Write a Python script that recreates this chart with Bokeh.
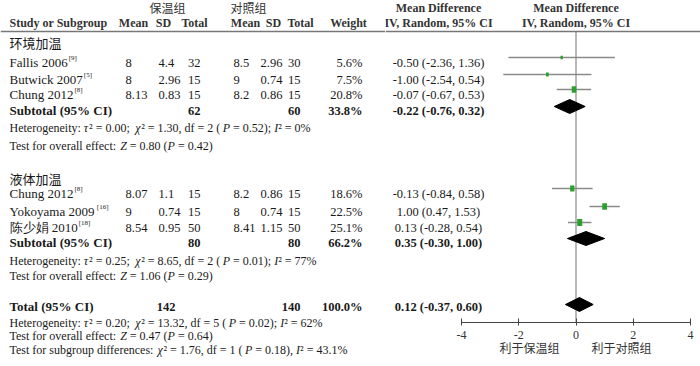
from bokeh.plotting import figure
from bokeh.models import ColumnDataSource, Range1d, LinearAxis, FixedTicker, Span
from bokeh.layouts import row
from bokeh.core.properties import value
from bokeh.embed import file_html
from bokeh.resources import INLINE

# ---------------- data ----------------
group_names = ["环境加温", "液体加温"]
studies = ["Fallis 2006", "Butwick 2007", "Chung 2012", "Chung 2012", "Yokoyama 2009", "陈少娟 2010"]
refs = ["[9]", "[5]", "[8]", "[8]", "[16]", "[18]"]
study_group = [0, 0, 0, 1, 1, 1]
exp_mean = [8, 8, 8.13, 8.07, 9, 8.54]
exp_sd = [4.4, 2.96, 0.83, 1.1, 0.74, 0.95]
exp_n = [32, 15, 15, 15, 15, 50]
ctl_mean = [8.5, 9, 8.2, 8.2, 8, 8.41]
ctl_sd = [2.96, 0.74, 0.86, 0.86, 0.74, 1.15]
ctl_n = [30, 15, 15, 15, 15, 50]
weight = [5.6, 7.5, 20.8, 18.6, 22.5, 25.1]
md = [-0.50, -1.00, -0.07, -0.13, 1.00, 0.13]
md_lo = [-2.36, -2.54, -0.67, -0.84, 0.47, -0.28]
md_hi = [1.36, 0.54, 0.53, 0.58, 1.53, 0.54]

sub_exp_n = [62, 80]
sub_ctl_n = [60, 80]
sub_weight = [33.8, 66.2]
sub_md = [-0.22, 0.35]
sub_lo = [-0.76, -0.30]
sub_hi = [0.32, 1.00]

tot_exp_n = 142
tot_ctl_n = 140
tot_weight = 100.0
tot_md = 0.12
tot_lo = -0.37
tot_hi = 0.60

het_texts = [
    "Heterogeneity: τ² = 0.00; χ² = 1.30, df = 2 (P = 0.52); I² = 0%",
    "Heterogeneity: τ² = 0.25; χ² = 8.65, df = 2 (P = 0.01); I² = 77%",
    "Heterogeneity: τ² = 0.20; χ² = 13.32, df = 5 (P = 0.02); I² = 62%",
]
test_texts = [
    "Test for overall effect: Z = 0.80 (P = 0.42)",
    "Test for overall effect: Z = 1.06 (P = 0.29)",
    "Test for overall effect: Z = 0.47 (P = 0.64)",
]
subgroup_text = "Test for subgroup differences: χ² = 1.76, df = 1 (P = 0.18), I² = 43.1%"

axis_ticks = [-4, -2, 0, 2, 4]
favour_labels = ["利于保温组", "利于对照组"]

# ---------------- layout / style ----------------
SERIF = "Liberation Serif"
NARROW = "Liberation Sans Narrow"
CJK = "Noto Sans CJK SC"
TXT = "#1a1a1a"
HDR = "#333333"
GREEN = "#2ca02c"
GRAY = "#8a8a8a"

FRAME_BOTTOM = 322   # page y of the axis line
PAGE_H = 366
LEFT_W = 385
PAGE_W = 700

group_y = [42, 178]
study_y = [62, 79, 94, 193, 211, 227]
sub_y = [110, 242]
het_y = [127, 260, 322]
test_y = [145, 275, 335]
tot_y = 306
subgroup_y = 349
fy_off = -5

# Times (Liberation Serif) advance widths, 1/1000 em
TW = {" ": 250, "%": 833, "(": 333, ")": 333, ",": 250, "-": 333, ".": 250, ":": 278,
      ";": 278, "=": 564, "²": 300, "τ": 440, "χ": 500,
      "B": 667, "C": 667, "F": 556, "H": 722, "I": 333, "P": 556, "T": 611, "Y": 722, "Z": 611,
      "a": 444, "b": 500, "c": 444, "d": 500, "e": 444, "f": 333, "g": 500, "h": 500,
      "i": 278, "k": 500, "l": 278, "m": 778, "n": 500, "o": 500, "p": 500, "r": 333,
      "s": 389, "t": 278, "u": 500, "v": 500, "w": 722, "y": 500}
TW_IT = {"P": 611, "Z": 556, "I": 333, "τ": 440, "χ": 500}
ITALIC_SYMBOLS = set(TW_IT)


def char_w(ch, italic=False):
    if italic and ch in TW_IT:
        return TW_IT[ch]
    if ch.isdigit():
        return 500
    if ord(ch) > 0x2E80:
        return 1000
    return TW.get(ch, 500)


def text_w(s, size):
    return sum(char_w(c) for c in s) / 1000 * size


def txt(p, xs, ys, texts, font=SERIF, size=12.5, align="left", style="normal", color=TXT):
    src = ColumnDataSource(dict(x=list(xs), y=list(ys), t=list(texts)))
    p.text(x="x", y="y", text="t", source=src, text_font=value(font),
           text_font_size=f"{size}px", text_align=align, text_baseline="middle",
           text_font_style=style, text_color=color)


def stat_lines(p, x0, ys, lines, size=12):
    """Statistic lines with the single-letter symbols set in italics."""
    reg = dict(x=[], y=[], t=[])
    ita = dict(x=[], y=[], t=[])
    for y, s in zip(ys, lines):
        x = x0
        cur, cur_it = "", False
        segs = []
        for i, ch in enumerate(s):
            prev = s[i - 1] if i > 0 else " "
            nxt = s[i + 1] if i + 1 < len(s) else " "
            it = ch in ITALIC_SYMBOLS and not prev.isalpha() and not nxt.isalpha()
            if it != cur_it and cur:
                segs.append((cur, cur_it))
                cur = ""
            cur_it = it
            cur += ch
        if cur:
            segs.append((cur, cur_it))
        for seg, it in segs:
            lead = len(seg) - len(seg.lstrip(" "))
            x += lead * TW[" "] / 1000 * size
            body = seg.lstrip(" ")
            d = ita if it else reg
            d["x"].append(x)
            d["y"].append(y)
            d["t"].append(body)
            x += sum(char_w(c, it) for c in body) / 1000 * size
    for d, st in ((reg, "normal"), (ita, "italic")):
        txt(p, d["x"], d["y"], d["t"], size=size, style=st)


def g(v):
    return format(v, "g")


# ---------------- left table figure ----------------
left = figure(width=LEFT_W, height=PAGE_H, x_range=Range1d(0, LEFT_W),
              y_range=Range1d(PAGE_H, 0), x_axis_type=None, y_axis_type=None,
              output_backend="svg", toolbar_location=None, min_border=0,
              outline_line_color=None, frame_align=False)
left.grid.visible = False

txt(left, [167, 248], [7, 7], ["保温组", "对照组"], font=CJK, size=12, align="center", color=HDR)
txt(left, [9], [22], ["Study or Subgroup"], font=NARROW, size=12, style="bold", color=HDR)
txt(left, [133, 163, 194, 245, 273, 300, 348], [22] * 7,
    ["Mean", "SD", "Total", "Mean", "SD", "Total", "Weight"],
    font=NARROW, size=12, align="center", style="bold", color=HDR)
left.add_layout(Span(location=31, dimension="width", line_color="#777777", line_width=1.5))

txt(left, [9, 9], group_y, group_names, font=CJK, size=13)

txt(left, [9] * 6, study_y, studies, size=13)
sup_x = [9 + text_w(s, 13) + 1 for s in studies]
txt(left, sup_x, [y - 5 for y in study_y], refs, size=7)
txt(left, [125] * 6, study_y, [g(v) for v in exp_mean])
txt(left, [158] * 6, study_y, [g(v) for v in exp_sd])
txt(left, [200] * 6, study_y, [str(v) for v in exp_n], align="right")
txt(left, [233] * 6, study_y, [g(v) for v in ctl_mean])
txt(left, [260] * 6, study_y, [g(v) for v in ctl_sd])
txt(left, [300] * 6, study_y, [str(v) for v in ctl_n], align="right")
txt(left, [362] * 6, study_y, [f"{w:.1f}%" for w in weight], align="right")

txt(left, [9, 9], sub_y, ["Subtotal (95% CI)"] * 2, size=13, style="bold")
txt(left, [200, 200], sub_y, [str(v) for v in sub_exp_n], align="right", style="bold")
txt(left, [300, 300], sub_y, [str(v) for v in sub_ctl_n], align="right", style="bold")
txt(left, [362, 362], sub_y, [f"{w:.1f}%" for w in sub_weight], align="right", style="bold")

txt(left, [9], [tot_y], ["Total (95% CI)"], size=13, style="bold")
txt(left, [175], [tot_y], [str(tot_exp_n)], align="right", style="bold")
txt(left, [300], [tot_y], [str(tot_ctl_n)], align="right", style="bold")
txt(left, [362], [tot_y], [f"{tot_weight:.1f}%"], align="right", style="bold")

stat_lines(left, 9, het_y + test_y + [subgroup_y], het_texts + test_texts + [subgroup_text])

# ---------------- right forest figure ----------------
PX = 28.625          # pixels per unit
X0 = 575.5           # page x of zero
right = figure(width=PAGE_W - LEFT_W, height=PAGE_H,
               x_range=Range1d((LEFT_W - X0) / PX, (PAGE_W - X0) / PX),
               y_range=Range1d(FRAME_BOTTOM, 0), x_axis_type=None, y_axis_type=None,
               output_backend="svg", toolbar_location=None, min_border=0,
               min_border_bottom=PAGE_H - FRAME_BOTTOM, outline_line_color=None,
               frame_align=False)
right.grid.visible = False
right.add_layout(Span(location=31, dimension="width", line_color="#777777", line_width=1.5))

ci_x = (438 - X0) / PX
txt(right, [ci_x, 0], [7, 7], ["Mean Difference"] * 2, font=NARROW, size=12,
    align="center", style="bold", color=HDR)
txt(right, [ci_x, 0], [22, 22], ["IV, Random, 95% CI"] * 2, font=NARROW, size=12,
    align="center", style="bold", color=HDR)

txt(right, [ci_x] * 6, study_y, [f"{m:.2f} ({a:.2f}, {b:.2f})" for m, a, b in zip(md, md_lo, md_hi)],
    align="center")
txt(right, [ci_x] * 2, sub_y, [f"{m:.2f} ({a:.2f}, {b:.2f})" for m, a, b in zip(sub_md, sub_lo, sub_hi)],
    align="center", style="bold")
txt(right, [ci_x], [tot_y], [f"{tot_md:.2f} ({tot_lo:.2f}, {tot_hi:.2f})"], align="center", style="bold")

right.segment(x0=[0], y0=[31], x1=[0], y1=[FRAME_BOTTOM], line_color=GRAY, line_width=1.2)

fy = [y + fy_off for y in study_y]
right.segment(x0=md_lo, y0=fy, x1=md_hi, y1=fy, line_color=GRAY, line_width=1.3)
sq = ColumnDataSource(dict(x=md, y=fy, w=[1.0 * w ** 0.5 for w in weight],
                           h=[1.4 * w ** 0.5 for w in weight]))
right.rect(x="x", y="y", width="w", height="h", width_units="screen", height_units="screen",
           source=sq, fill_color=GREEN, line_color=None)

dy = [y - 4 for y in sub_y] + [tot_y - 2]
dlo = sub_lo + [tot_lo]
dmd = sub_md + [tot_md]
dhi = sub_hi + [tot_hi]
right.patches(xs=[[a, m, b, m] for a, m, b in zip(dlo, dmd, dhi)],
              ys=[[y, y - 7, y, y + 7] for y in dy],
              fill_color="black", line_color="black")

ax = LinearAxis(ticker=FixedTicker(ticks=axis_ticks), bounds=(axis_ticks[0], axis_ticks[-1]))
ax.major_label_overrides = {t: str(t) for t in axis_ticks}
ax.major_tick_in = 4
ax.major_tick_out = 3
ax.minor_tick_line_color = None
ax.axis_line_color = "#444444"
ax.major_tick_line_color = "#444444"
ax.major_label_standoff = 5
ax.major_label_text_font = NARROW
ax.major_label_text_font_size = "12px"
ax.major_label_text_color = HDR
right.add_layout(ax, "below")

fav_ticks = [(529 - X0) / PX, (621 - X0) / PX]
ax2 = LinearAxis(ticker=FixedTicker(ticks=fav_ticks))
ax2.major_label_overrides = {t: s for t, s in zip(fav_ticks, favour_labels)}
ax2.axis_line_color = None
ax2.major_tick_line_color = None
ax2.minor_tick_line_color = None
ax2.major_label_standoff = -9
ax2.major_label_text_font = CJK
ax2.major_label_text_font_size = "12px"
ax2.major_label_text_color = HDR
right.add_layout(ax2, "below")

layout = row(left, right, spacing=0)
open("out.html", "w").write(file_html(layout, INLINE))
